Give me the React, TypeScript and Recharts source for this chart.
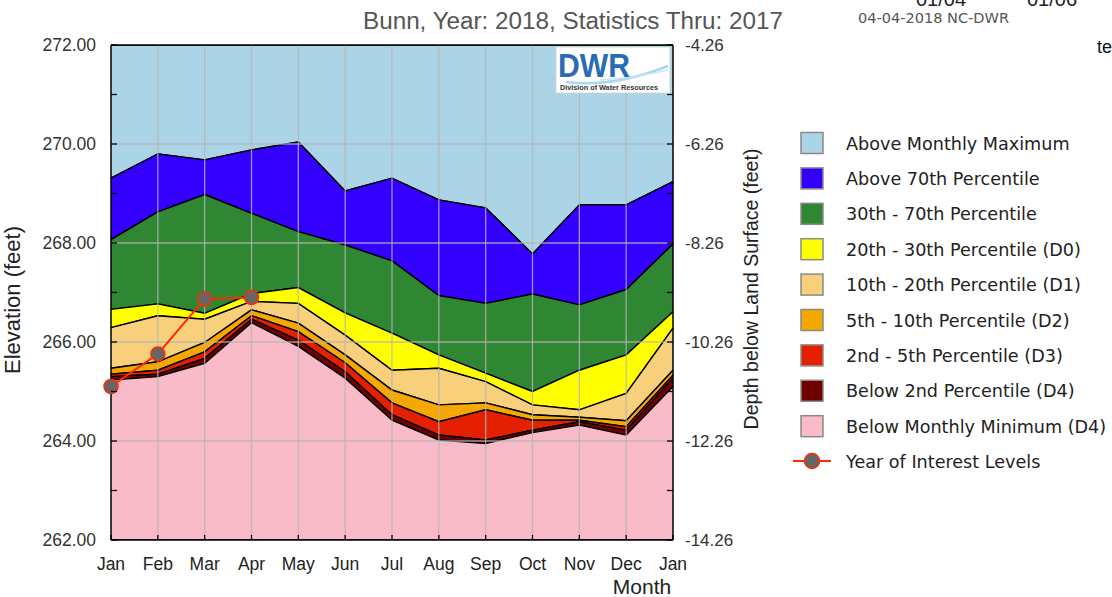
import React from 'react';
import { ComposedChart, Area, Line, XAxis, YAxis, ReferenceLine } from 'recharts';

// ---------- data ----------
const months = ['Jan', 'Feb', 'Mar', 'Apr', 'May', 'Jun', 'Jul', 'Aug', 'Sep', 'Oct', 'Nov', 'Dec', 'Jan'];
const monthlyMax = [269.31, 269.8, 269.68, 269.88, 270.04, 269.05, 269.31, 268.87, 268.71, 267.78, 268.77, 268.77, 269.24];
const p70 = [268.07, 268.63, 268.98, 268.6, 268.23, 267.96, 267.64, 266.94, 266.78, 266.97, 266.75, 267.06, 267.98];
const p30 = [266.66, 266.77, 266.58, 266.98, 267.1, 266.59, 266.18, 265.74, 265.37, 265.0, 265.43, 265.74, 266.61];
const p20 = [266.29, 266.53, 266.46, 266.82, 266.78, 266.14, 265.43, 265.47, 265.2, 264.73, 264.63, 264.96, 266.28];
const p10 = [265.47, 265.6, 265.99, 266.65, 266.38, 265.74, 265.03, 264.73, 264.77, 264.53, 264.48, 264.41, 265.43];
const p5 = [265.35, 265.43, 265.8, 266.53, 266.21, 265.58, 264.77, 264.39, 264.63, 264.42, 264.42, 264.29, 265.33];
const p2 = [265.3, 265.35, 265.67, 266.46, 266.04, 265.4, 264.53, 264.12, 264.02, 264.22, 264.39, 264.22, 265.27];
const monthlyMin = [265.23, 265.3, 265.57, 266.39, 265.91, 265.27, 264.42, 264.02, 263.95, 264.17, 264.32, 264.12, 265.1];
const yearOfInterest: (number | null)[] = [265.1, 265.76, 266.87, 266.9, null, null, null, null, null, null, null, null, null];

const elevationTicks = [262, 263, 264, 265, 266, 267, 268, 269, 270, 271, 272];
const gridElevations = [264, 266, 268, 270];
const landSurface = 276.26;
const domainMin = 262;
const domainMax = 272;

const bands = [
  { key: 'aboveMax', label: 'Above Monthly Maximum', color: '#ABD5E6' },
  { key: 'above70', label: 'Above 70th Percentile', color: '#3300FF' },
  { key: 'p30to70', label: '30th - 70th Percentile', color: '#2F8733' },
  { key: 'p20to30', label: '20th - 30th Percentile (D0)', color: '#FFFF00' },
  { key: 'p10to20', label: '10th - 20th Percentile (D1)', color: '#F8CF7B' },
  { key: 'p5to10', label: '5th - 10th Percentile (D2)', color: '#F6A800' },
  { key: 'p2to5', label: '2nd - 5th Percentile (D3)', color: '#E52000' },
  { key: 'below2', label: 'Below 2nd Percentile (D4)', color: '#700000' },
  { key: 'belowMin', label: 'Below Monthly Minimum (D4)', color: '#F8BBC7' },
];

const data = months.map((m, i) => ({
  x: i,
  month: m,
  aboveMax: [monthlyMax[i], domainMax],
  above70: [p70[i], monthlyMax[i]],
  p30to70: [p30[i], p70[i]],
  p20to30: [p20[i], p30[i]],
  p10to20: [p10[i], p20[i]],
  p5to10: [p5[i], p10[i]],
  p2to5: [p2[i], p5[i]],
  below2: [monthlyMin[i], p2[i]],
  belowMin: [domainMin, monthlyMin[i]],
  yoi: yearOfInterest[i],
}));
const monthIdx = months.map((_, i) => i);

// ---------- styles ----------
const ARIAL = "'Liberation Sans', Arial, sans-serif";
const DEJAVU = "'DejaVu Sans', Verdana, sans-serif";
const LEFT_GAP = 15;
const RIGHT_GAP = 12;
const LINE_RED = '#FF2A00';

const LeftTick = (props: any) => {
  const { x, y, payload } = props;
  const v = payload.value as number;
  const ax = x + LEFT_GAP;
  return (
    <g>
      <line x1={ax} x2={ax + 6} y1={y} y2={y} stroke="#000" strokeWidth={1.3} />
      {v % 2 === 0 && (
        <text x={x} y={y + 6} textAnchor="end" fontFamily={ARIAL} fontSize={17.5} fill="#333">
          {v.toFixed(2)}
        </text>
      )}
    </g>
  );
};

const RightTick = (props: any) => {
  const { x, y, payload } = props;
  const v = payload.value as number;
  const ax = x - RIGHT_GAP;
  return (
    <g>
      <line x1={ax} x2={ax - 6} y1={y} y2={y} stroke="#000" strokeWidth={1.3} />
      {v % 2 === 0 && (
        <text x={x} y={y + 6} textAnchor="start" fontFamily={ARIAL} fontSize={17} fill="#333">
          {(v - landSurface).toFixed(2)}
        </text>
      )}
    </g>
  );
};

const BottomTick = (props: any) => {
  const { x, y, payload } = props;
  return (
    <g>
      <line x1={x} x2={x} y1={y} y2={y - 5} stroke="#000" strokeWidth={1.3} />
      <text x={x} y={y + 30} textAnchor="middle" fontFamily={ARIAL} fontSize={17.5} fill="#222">
        {months[payload.value]}
      </text>
    </g>
  );
};

const YoiDot = (props: any) => {
  const { cx, cy, value } = props;
  if (value == null || cx == null || cy == null) return <g />;
  return <circle cx={cx} cy={cy} r={7} fill="#666" stroke={LINE_RED} strokeWidth={1.5} />;
};

export default function App() {
  return (
    <div style={{ position: 'absolute', left: 0, top: 0, width: 1112, height: 597, background: '#fff' }}>
      <ComposedChart
        width={1112}
        height={597}
        data={data}
        margin={{ top: 45, right: 379, bottom: 27, left: 51 }}
      >
        <XAxis
          dataKey="x"
          type="number"
          domain={[0, 12]}
          ticks={monthIdx}
          interval={0}
          height={30}
          tickSize={0}
          tickMargin={0}
          axisLine={{ stroke: '#000', strokeWidth: 1.5 }}
          tickLine={false}
          tick={<BottomTick />}
        />
        <YAxis
          yAxisId="left"
          type="number"
          domain={[domainMin, domainMax]}
          ticks={elevationTicks}
          interval={0}
          width={60}
          tickSize={0}
          tickMargin={LEFT_GAP}
          allowDataOverflow
          axisLine={{ stroke: '#000', strokeWidth: 1.5 }}
          tickLine={false}
          tick={<LeftTick />}
        />
        <YAxis
          yAxisId="right"
          orientation="right"
          type="number"
          domain={[domainMin, domainMax]}
          ticks={elevationTicks}
          interval={0}
          width={60}
          tickSize={0}
          tickMargin={RIGHT_GAP}
          allowDataOverflow
          axisLine={{ stroke: '#000', strokeWidth: 1.5 }}
          tickLine={false}
          tick={<RightTick />}
        />
        {bands.map((b) => (
          <Area
            key={b.key}
            yAxisId="left"
            type="linear"
            dataKey={b.key}
            fill={b.color}
            fillOpacity={1}
            stroke="#000"
            strokeWidth={1.4}
            dot={false}
            activeDot={false}
            isAnimationActive={false}
          />
        ))}
        {monthIdx.slice(1, -1).map((i) => (
          <ReferenceLine key={'vx' + i} yAxisId="left" x={i} stroke="#B5B5B5" strokeWidth={1.3} strokeOpacity={0.8} />
        ))}
        {gridElevations.map((v) => (
          <ReferenceLine key={'hy' + v} yAxisId="left" y={v} stroke="#B5B5B5" strokeWidth={1.3} strokeOpacity={0.8} />
        ))}
        <ReferenceLine yAxisId="left" y={domainMax} stroke="#000" strokeWidth={1.5} />
        <Line
          yAxisId="left"
          type="linear"
          dataKey="yoi"
          stroke={LINE_RED}
          strokeWidth={2}
          dot={<YoiDot />}
          activeDot={false}
          connectNulls={false}
          isAnimationActive={false}
        />
      </ComposedChart>

      <svg
        width={1112}
        height={597}
        style={{ position: 'absolute', left: 0, top: 0, pointerEvents: 'none' }}
      >
        {/* title and header texts */}
        <text
          x={363}
          y={29}
          fontFamily={ARIAL}
          fontSize={23.5}
          fill="#555"
          textLength={420}
          lengthAdjust="spacingAndGlyphs"
        >
          Bunn, Year: 2018, Statistics Thru: 2017
        </text>
        <text
          x={858}
          y={23}
          fontFamily={DEJAVU}
          fontSize={14}
          fill="#555"
          textLength={151}
          lengthAdjust="spacingAndGlyphs"
        >
          04-04-2018 NC-DWR
        </text>
        <text x={916} y={6} fontFamily={ARIAL} fontSize={20} fill="#222">01/04</text>
        <text x={1027} y={6} fontFamily={ARIAL} fontSize={20} fill="#222">01/06</text>
        <text x={1097} y={53} fontFamily={ARIAL} fontSize={18} fill="#111">te</text>

        {/* axis titles */}
        <text
          x={0}
          y={0}
          transform="translate(20,300) rotate(-90)"
          textAnchor="middle"
          fontFamily={ARIAL}
          fontSize={22}
          fill="#222"
        >
          Elevation (feet)
        </text>
        <text
          x={0}
          y={0}
          transform="translate(758,289) rotate(-90)"
          textAnchor="middle"
          fontFamily={ARIAL}
          fontSize={19.5}
          fill="#222"
        >
          Depth below Land Surface (feet)
        </text>
        <text x={642} y={594} textAnchor="middle" fontFamily={ARIAL} fontSize={21} fill="#222">
          Month
        </text>

        {/* DWR logo */}
        <rect x={556} y={47} width={114} height={46} fill="#fff" stroke="#d0d0d0" strokeWidth={0.8} />
        <path d="M 566 82 Q 612 88 668 66" fill="none" stroke="#A8D8F0" strokeWidth={2.5} />
        <path d="M 600 80 Q 635 78 668 70" fill="none" stroke="#CBE8F7" strokeWidth={1.5} />
        <text
          x={558}
          y={77}
          fontFamily={ARIAL}
          fontWeight="bold"
          fontSize={34}
          fill="#2A6BB5"
          textLength={72}
          lengthAdjust="spacingAndGlyphs"
        >
          DWR
        </text>
        <text
          x={560}
          y={90}
          fontFamily={ARIAL}
          fontWeight="bold"
          fontSize={6.5}
          fill="#333"
          textLength={98}
          lengthAdjust="spacingAndGlyphs"
        >
          Division of Water Resources
        </text>

        {/* legend */}
        {bands.map((b, i) => {
          const cy = 143 + i * 35.4;
          return (
            <g key={b.key}>
              <rect x={801} y={cy - 10.5} width={22} height={21} fill={b.color} stroke="#8A8A8A" strokeWidth={1.5} />
              <text x={846} y={cy + 6.5} fontFamily={DEJAVU} fontSize={17.6} fill="#222">
                {b.label}
              </text>
            </g>
          );
        })}
        <g>
          <line x1={793} x2={831} y1={461} y2={461} stroke={LINE_RED} strokeWidth={2} />
          <circle cx={812} cy={461} r={7.5} fill="#666" stroke={LINE_RED} strokeWidth={1.5} />
          <text x={846} y={467.5} fontFamily={DEJAVU} fontSize={17.6} fill="#222">
            Year of Interest Levels
          </text>
        </g>
      </svg>
    </div>
  );
}
